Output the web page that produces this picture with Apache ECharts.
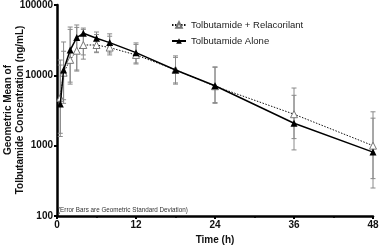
<!DOCTYPE html>
<html>
<head>
<meta charset="utf-8">
<script src="https://cdn.jsdelivr.net/npm/echarts@6/dist/echarts.min.js"></script>
<style>
  html, body { margin: 0; padding: 0; background: #fff; }
  #chart { width: 380px; height: 246px; }
</style>
</head>
<body>
<div id="chart"></div>
<script>
// time points (h)
const times = [0.5, 1, 2, 3, 4, 6, 8, 12, 18, 24, 36, 48];

// geometric means (ng/mL)
const aloneMean = [3900, 11900, 22900, 34400, 39600, 33700, 29200, 21000, 11900, 7100, 2080, 810];
const relacMean = [4800, 10900, 16600, 22400, 27000, 27000, 24800, 19500, 12000, 7000, 2800, 1000];

// error bars (geometric SD range)
const aloneLow = [1350, 4500, 8000, 11900, 19500, 21500, 20800, 15000, 7800, 4100, 870, 250];
const aloneHigh = [16500, 29800, 48600, 52000, 47000, 41300, 38900, 28900, 18900, 13200, 5200, 2460];
const relacLow = [1500, 4000, 7500, 11500, 17000, 21000, 19500, 14500, 7500, 4000, 1260, 340];
const relacHigh = [14000, 22000, 45000, 48000, 45000, 38000, 36000, 27500, 18000, 13000, 6600, 3030];

const xTicks = [0, 12, 24, 36, 48];
const yTicks = [100, 1000, 10000, 100000];

const FONT = 'Liberation Sans';

function errData(low, high) {
  return times.map((t, i) => [t, low[i], high[i]]);
}

function errBar(params, api) {
  const lo = api.coord([api.value(0), api.value(1)]);
  const hi = api.coord([api.value(0), api.value(2)]);
  const w = 2.5;
  const style = { stroke: '#8a8a8a', lineWidth: 1 };
  return {
    type: 'group',
    children: [
      { type: 'line', shape: { x1: lo[0], y1: lo[1], x2: hi[0], y2: hi[1] }, style: style },
      { type: 'line', shape: { x1: lo[0] - w, y1: lo[1], x2: lo[0] + w, y2: lo[1] }, style: style },
      { type: 'line', shape: { x1: hi[0] - w, y1: hi[1], x2: hi[0] + w, y2: hi[1] }, style: style }
    ]
  };
}

const chart = echarts.init(document.getElementById('chart'));

const titleStyle = { fontSize: 10, fontWeight: 'bold', fontFamily: FONT, fill: '#111', align: 'center', verticalAlign: 'middle' };

const options = {
  animation: false,
  textStyle: { fontFamily: FONT },
  grid: { left: 57, right: 7, top: 5, bottom: 30, containLabel: false, outerBoundsMode: 'none' },
  legend: {
    orient: 'vertical',
    left: 166,
    top: 15,
    itemWidth: 14,
    itemHeight: 7,
    itemGap: 6,
    textStyle: { fontSize: 9.5, color: '#222', fontFamily: FONT },
    data: ['Tolbutamide + Relacorilant', 'Tolbutamide Alone']
  },
  xAxis: {
    type: 'value',
    min: 0,
    max: 48,
    interval: 12,
    name: 'Time (h)',
    nameLocation: 'middle',
    nameGap: 18,
    nameTextStyle: { fontSize: 10, fontWeight: 'bold', color: '#111' },
    axisLine: { lineStyle: { color: '#000', width: 2.5 } },
    axisTick: { length: 3, lineStyle: { color: '#000', width: 2 } },
    minorTick: { show: true, splitNumber: 2, length: 2, lineStyle: { color: '#000', width: 1.5 } },
    axisLabel: {
      fontSize: 10, fontWeight: 'bold', color: '#111', margin: 4,
      customValues: xTicks
    },
    splitLine: { show: false }
  },
  yAxis: {
    type: 'log',
    min: 100,
    max: 100000,
    logBase: 10,
    axisLine: { show: true, lineStyle: { color: '#000', width: 2.5 } },
    axisTick: { show: true, length: 3, lineStyle: { color: '#000', width: 2 } },
    axisLabel: {
      fontSize: 10, fontWeight: 'bold', color: '#111', margin: 4,
      formatter: v => yTicks.includes(Math.round(v)) ? String(Math.round(v)) : ''
    },
    splitLine: { show: false }
  },
  graphic: [
    {
      type: 'text',
      x: 8,
      y: 110,
      rotation: Math.PI / 2,
      style: Object.assign({ text: 'Geometric Mean of' }, titleStyle)
    },
    {
      type: 'text',
      x: 20,
      y: 110,
      rotation: Math.PI / 2,
      style: Object.assign({ text: 'Tolbutamide Concentration (ng/mL)' }, titleStyle)
    },
    {
      type: 'text',
      left: 58,
      top: 207,
      style: {
        text: '(Error Bars are Geometric Standard Deviation)',
        fontSize: 6.3,
        fontFamily: FONT,
        fill: '#333'
      }
    }
  ],
  series: [
    {
      name: 'errRelac',
      type: 'custom',
      renderItem: errBar,
      data: errData(relacLow, relacHigh),
      encode: { x: 0, y: [1, 2] },
      z: 1,
      silent: true
    },
    {
      name: 'errAlone',
      type: 'custom',
      renderItem: errBar,
      data: errData(aloneLow, aloneHigh),
      encode: { x: 0, y: [1, 2] },
      z: 1,
      silent: true
    },
    {
      name: 'Tolbutamide + Relacorilant',
      type: 'line',
      data: times.map((t, i) => [t, relacMean[i]]),
      symbol: 'triangle',
      symbolSize: 7,
      lineStyle: { color: '#111', width: 1, type: [1.5, 1.5] },
      itemStyle: { color: '#fff', borderColor: '#777', borderWidth: 1 },
      z: 3
    },
    {
      name: 'Tolbutamide Alone',
      type: 'line',
      data: times.map((t, i) => [t, aloneMean[i]]),
      symbol: 'triangle',
      symbolSize: 7,
      lineStyle: { color: '#000', width: 1.5 },
      itemStyle: { color: '#000', borderColor: '#000', borderWidth: 0 },
      z: 4
    }
  ]
};

chart.setOption(options);
</script>
</body>
</html>
